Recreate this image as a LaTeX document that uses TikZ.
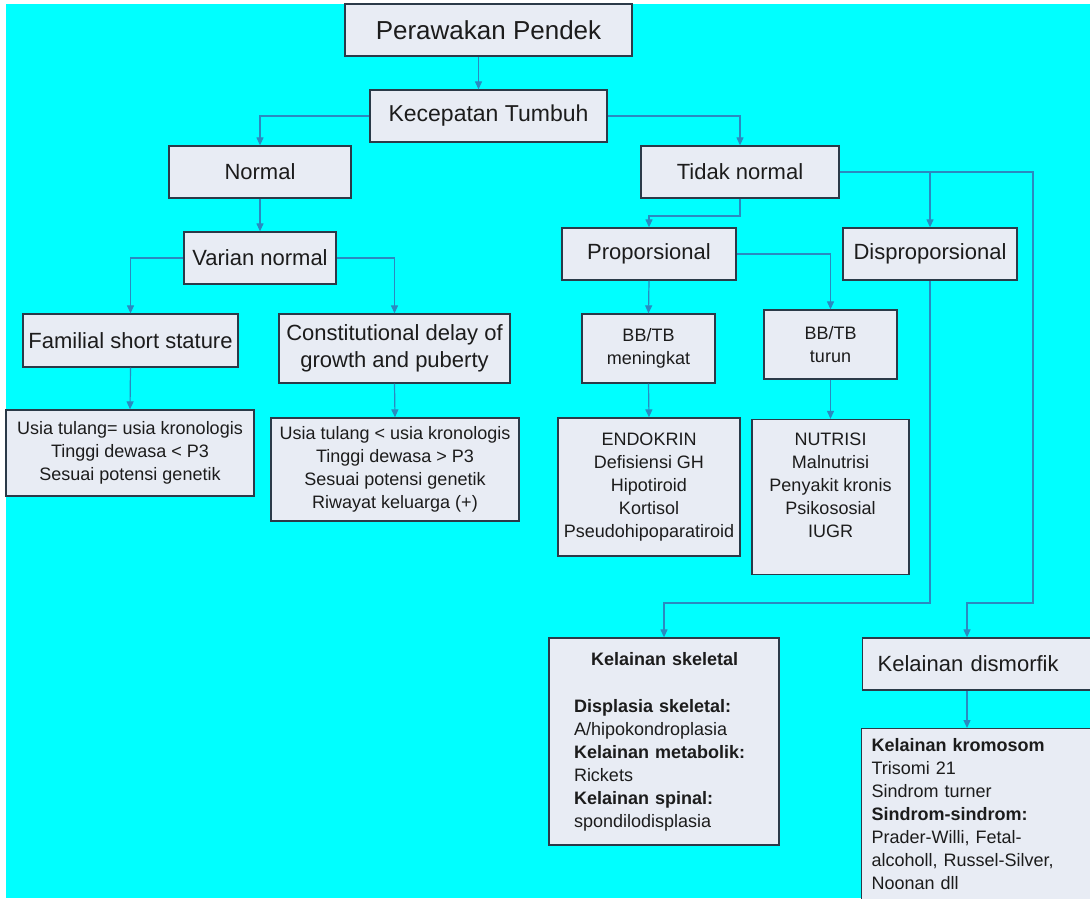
\documentclass[tikz,border=0pt]{standalone}
\usepackage{fontspec}
\setmainfont{Liberation Sans}
\usetikzlibrary{arrows.meta,calc}
\definecolor{bg}{HTML}{00FFFF}
\definecolor{boxfill}{HTML}{E8ECF4}
\definecolor{boxline}{HTML}{2B3A48}
\definecolor{lineblue}{HTML}{2A8AC0}
\definecolor{txt}{HTML}{1C1C1C}
\tikzset{
  box/.style={draw=boxline, fill=boxfill, line width=1.3pt, inner sep=0pt, text=txt, align=center},
  fA/.style={font=\fontsize{26}{30}\selectfont},
  fK/.style={font=\fontsize{23}{27}\selectfont},
  fB/.style={font=\fontsize{22}{27}\selectfont},
  fC/.style={font=\fontsize{18}{23}\selectfont},
  conn/.style={draw=lineblue, line width=1.2pt},
  arr/.style={conn, -{Triangle[length=8pt,width=7pt]}},
}
\begin{document}
\begin{tikzpicture}[x=1pt,y=-1pt]
\useasboundingbox (0,0) rectangle (1090,898);
\fill[white] (0,0) rectangle (1090,898);
\fill[bg] (6,4) rectangle (1090,898);
\clip (0,0) rectangle (1090,898);

% nodes
\node[box,fA,minimum width=287pt,minimum height=52pt] (per) at (488.5,30) {Perawakan Pendek};
\node[box,fK,minimum width=237pt,minimum height=52pt] (kec) at (488.5,116) {Kecepatan Tumbuh};
\node[box,fB,minimum width=182pt,minimum height=52pt] (nor) at (260,172) {Normal};
\node[box,fB,minimum width=198pt,minimum height=52pt] (tid) at (740,172) {Tidak normal};
\node[box,fB,minimum width=152pt,minimum height=52pt] (var) at (260,258) {Varian normal};
\node[box,fB,minimum width=215pt,minimum height=53pt] (fam) at (130.5,340.5) {Familial short stature};
\node[box,fB,minimum width=231pt,minimum height=69pt] (con) at (394.5,348.5) {Constitutional delay of\\growth and puberty};
\node[box,fC,minimum width=248pt,minimum height=86pt] (famd) at (130,453) {Usia tulang= usia kronologis\\Tinggi dewasa {<} P3\\Sesuai potensi genetik};
\node[box,fC,minimum width=248pt,minimum height=103pt] (cond) at (395,469.5) {Usia tulang {<} usia kronologis\\Tinggi dewasa {>} P3\\Sesuai potensi genetik\\Riwayat keluarga (+)};
\node[box,fB,minimum width=174pt,minimum height=52pt] (pro) at (649,254) {Proporsional};
\node[box,fB,minimum width=174pt,minimum height=52pt] (dis) at (930,254) {Disproporsional};
\node[box,fC,minimum width=133pt,minimum height=69pt] (men) at (648.5,348.5) {BB/TB\\meningkat};
\node[box,fC,minimum width=133pt,minimum height=69pt] (tur) at (830.5,344.5) {BB/TB\\turun};
\node[box,fC,minimum width=182pt,minimum height=138pt] (endo) at (649,487) {ENDOKRIN\\Defisiensi GH\\Hipotiroid\\Kortisol\\Pseudohipoparatiroid};
\node[box,fC,minimum width=157pt,minimum height=155pt] (nut) at (830.5,497) {NUTRISI\\Malnutrisi\\Penyakit kronis\\Psikososial\\IUGR\\\mbox{}};
\node[box,fC,align=left,text width=180pt,minimum width=230pt,minimum height=207pt] (ske) at (664,741.5)
  {\hspace*{17pt}\textbf{Kelainan skeletal}\\[24pt]
   \textbf{Displasia skeletal:}\\A/hipokondroplasia\\\textbf{Kelainan metabolik:}\\Rickets\\\textbf{Kelainan spinal:}\\spondilodisplasia};
\node[box,fB,anchor=west,align=left,text width=200pt,inner xsep=15pt,minimum height=52pt] (dmf) at (862,664) {Kelainan dismorfik};
\node[box,fC,anchor=north west,align=left,text width=220pt,inner xsep=10pt,inner ysep=10pt] (krom) at (861,728)
  {\textbf{Kelainan kromosom}\\Trisomi 21\\Sindrom turner\\\textbf{Sindrom-sindrom:}\\Prader-Willi, Fetal-\\alcoholl, Russel-Silver,\\Noonan dll};

% helper coordinates
\coordinate (j1) at (700,216);
\coordinate (j2) at (800,603);
\coordinate (r2) at (1033,603);
\coordinate (dmfin) at ([xshift=105pt]dmf.north west);
\coordinate (dmfout) at ([xshift=105pt]dmf.south west);

% connectors
\draw[arr] ([xshift=-10pt]per.south) -- ([xshift=-10pt]kec.north);
\draw[arr] (kec.west) -| (nor.north);
\draw[arr] (kec.east) -| (tid.north);
\draw[arr] (nor.south) -- (var.north);
\draw[arr] (var.west) -| (fam.north);
\draw[arr] (var.east) -| (con.north);
\draw[arr] (fam.south) -- (famd.north);
\draw[arr] (con.south) -- (cond.north);
\draw[arr] (tid.south) |- (j1) -| (pro.north);
\draw[arr] (tid.east) -| (r2) -| (dmfin);
\draw[arr] (tid.east -| dis.north) -- (dis.north);
\draw[arr] (dis.south) |- (j2) -| (ske.north);
\draw[arr] (pro.east) -| (tur.north);
\draw[arr] (pro.south) -- (men.north);
\draw[arr] (men.south) -- (endo.north);
\draw[arr] (tur.south) -- (nut.north);
\draw[arr] (dmfout) -- (dmfout |- krom.north);
\end{tikzpicture}
\end{document}
